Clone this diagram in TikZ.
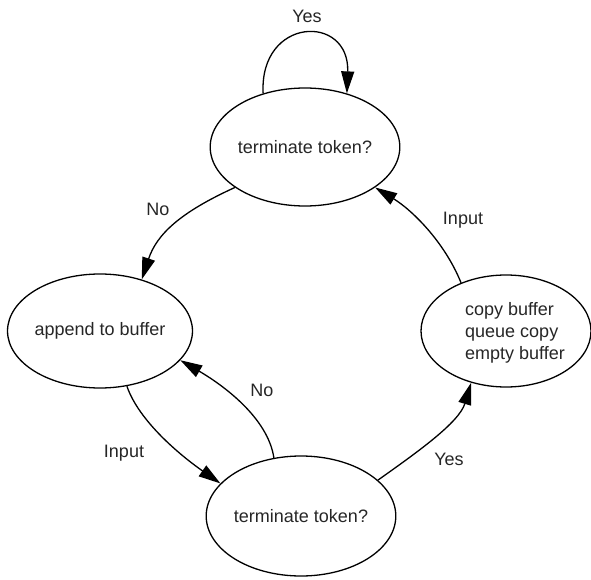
\documentclass[tikz,border=0pt]{standalone}
\usepackage{fontspec}
\setmainfont{Liberation Sans}
\usetikzlibrary{arrows.meta,shapes.geometric}
\begin{document}
\begin{tikzpicture}[x=1pt,y=-1pt,
  every node/.style={font=\fontsize{18}{22}\selectfont, text=black!85},
  state/.style={draw, ellipse, line width=1.3pt, inner sep=0pt},
  arr/.style={-{Triangle[length=22pt,width=13pt]}, line width=1.3pt},
  lbl/.style={anchor=base, inner sep=0pt}]
\useasboundingbox (0,0) rectangle (591,580);

% states
\node[state, minimum width=172pt, minimum height=118pt] (T) at (305,147) {terminate token?};
\node[state, minimum width=176pt, minimum height=114pt] (A) at (100,331) {append to buffer};
\node[state, minimum width=170pt, minimum height=112pt] (C) at (506,331) {};
\node[align=left, anchor=west, inner sep=0pt] (Ct) at (465,333) {copy buffer\\queue copy\\empty buffer};
\node[state, minimum width=178pt, minimum height=120pt] (B) at (301,516) {terminate token?};

% transitions
\draw[arr] (T.128) .. controls +(-4,-77) and +(3,-80) .. (T.52);
\draw[arr] (T.210) .. controls +(-55,25) and +(15,-45) .. (A.51);
\draw[arr] (A.296) .. controls +(12,35) and +(-40,-28) .. (B.158);
\draw[arr] (B.115) .. controls +(-6,-40) and +(43,25) .. (A.340);
\draw[arr] (B.25) .. controls +(38,-27) and +(-12,40) .. (C.236);
\draw[arr] (C.133) .. controls +(-17,-42) and +(36,22) .. (T.330);

% transition labels
\node[lbl] (yesTop) at (307,23) {Yes};
\node[lbl] (noTop) at (158,215) {No};
\node[lbl] (inRight) at (463,224) {Input};
\node[lbl] (noBot) at (262,396) {No};
\node[lbl] (inLeft) at (124,457) {Input};
\node[lbl] (yesBot) at (449,465) {Yes};
\end{tikzpicture}
\end{document}
